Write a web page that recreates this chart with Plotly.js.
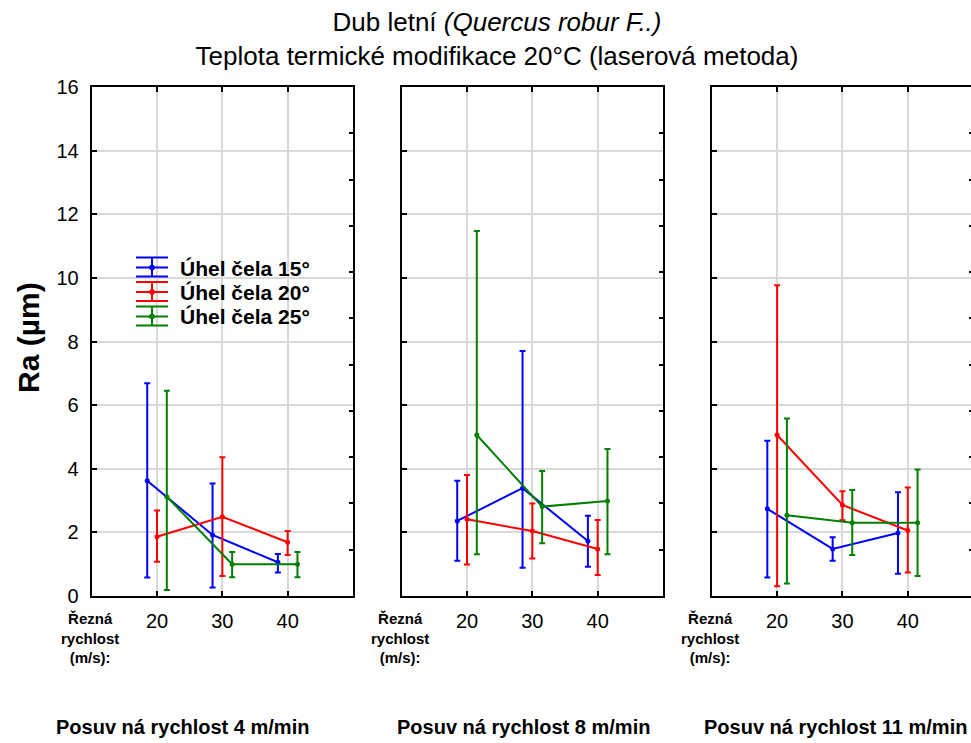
<!DOCTYPE html>
<html>
<head>
<meta charset="utf-8">
<script src="https://cdn.plot.ly/plotly-3.0.1.min.js"></script>
<style>
html,body{margin:0;padding:0;overflow:hidden;background:#fff;}
#chart{width:1000px;height:743px;}
</style>
</head>
<body>
<div id="chart"></div>
<script>
// ---- data ----
const cuttingSpeeds = [20, 30, 40];
const speedLabels = ['20', '30', '40'];
const feedLabels = ['Posuv ná rychlost 4 m/min', 'Posuv ná rychlost 8 m/min', 'Posuv ná rychlost 11 m/min'];
const seriesNames = ['Úhel čela 15°', 'Úhel čela 20°', 'Úhel čela 25°'];

// each: [feed 4, feed 8, feed 11] x [speed 20, 30, 40]
const mean15  = [[3.62, 1.92, 1.06], [2.36, 3.39, 1.73], [2.74, 1.48, 1.98]];
const upper15 = [[6.69, 3.54, 1.32], [3.62, 7.70, 2.52], [4.88, 1.85, 3.26]];
const lower15 = [[0.58, 0.27, 0.74], [1.11, 0.89, 0.92], [0.58, 1.11, 0.70]];

const mean20  = [[1.86, 2.49, 1.69], [2.41, 2.04, 1.48], [5.06, 2.86, 2.06]];
const upper20 = [[2.69, 4.36, 2.04], [3.80, 2.91, 2.39], [9.77, 3.29, 3.41]];
const lower20 = [[1.08, 0.63, 1.29], [0.99, 1.18, 0.66], [0.31, 2.38, 0.74]];

const mean25  = [[3.12, 1.00, 1.00], [5.06, 2.81, 2.99], [2.54, 2.30, 2.30]];
const upper25 = [[6.45, 1.38, 1.38], [11.47, 3.93, 4.62], [5.58, 3.33, 3.98]];
const lower25 = [[0.19, 0.59, 0.59], [1.31, 1.66, 1.31], [0.39, 1.29, 0.63]];

// ---- styling ----
const FONT = 'Liberation Sans, Arial, Helvetica, sans-serif';
const W = 1000, H = 743;
const colors = ['#0000ff', '#ff0000', '#008000'];
const dodge = [-1.5, 0, 1.5];
const plotTop = 87, plotBottom = 596;
const panelLeft = [91.7, 401.7, 711.8];
const panelWidth = 261.3;
const px = v => v / W;
const py = v => 1 - v / H;

const means = [mean15, mean20, mean25];
const uppers = [upper15, upper20, upper25];
const lowers = [lower15, lower20, lower25];

const traces = [];
const layout = {
  width: W, height: H,
  margin: {l: 0, r: 0, t: 0, b: 0},
  paper_bgcolor: '#fff', plot_bgcolor: '#fff',
  showlegend: false,
  font: {family: FONT, color: '#000'},
  title: {
    text: 'Dub letní <i>(Quercus robur F..)</i><br>Teplota termické modifikace 20°C (laserová metoda)',
    font: {family: FONT, size: 26, color: '#000'},
    x: px(497), xref: 'container', xanchor: 'center',
    y: 1 - 31 / H, yref: 'container', yanchor: 'top'
  },
  shapes: [],
  annotations: []
};

for (let p = 0; p < 3; p++) {
  const xa = 'xaxis' + (p + 1), ya = 'yaxis' + (p + 1), yr = 'yaxis' + (p + 4);
  layout[xa] = {
    domain: [px(panelLeft[p]), px(panelLeft[p] + panelWidth)],
    range: [10, 50], tickmode: 'array', tickvals: cuttingSpeeds, ticktext: speedLabels,
    showgrid: true, gridcolor: '#d9d9d9', gridwidth: 2,
    showline: true, linecolor: '#000', linewidth: 2, mirror: 'ticks',
    ticks: 'inside', ticklen: 5, tickwidth: 2, tickcolor: '#000',
    zeroline: false, anchor: 'y' + (p + 1), fixedrange: true,
    tickfont: {family: FONT, size: 20, color: '#000'}, ticklabelstandoff: 6
  };
  layout[ya] = {
    domain: [py(plotBottom), py(plotTop)],
    range: [0, 16], tickmode: 'linear', tick0: 0, dtick: 2,
    showgrid: true, gridcolor: '#d9d9d9', gridwidth: 2,
    showline: true, linecolor: '#000', linewidth: 2, mirror: true,
    ticks: 'inside', ticklen: 5, tickwidth: 2, tickcolor: '#000',
    zeroline: false, anchor: 'x' + (p + 1), fixedrange: true,
    showticklabels: p === 0,
    tickfont: {family: FONT, size: 20, color: '#000'}, ticklabelstandoff: 7
  };
  layout[yr] = {
    overlaying: 'y' + (p + 1), side: 'right', anchor: 'x' + (p + 1),
    range: [0, 11], tickmode: 'linear', tick0: 0, dtick: 1,
    showgrid: false, showline: false, zeroline: false, showticklabels: false,
    ticks: 'inside', ticklen: 4, tickwidth: 2, tickcolor: '#000', fixedrange: true
  };
  traces.push({x: [], y: [], type: 'scatter', xaxis: 'x' + (p + 1), yaxis: 'y' + (p + 4), showlegend: false, hoverinfo: 'skip'});

  for (let s = 0; s < 3; s++) {
    const m = means[s][p], u = uppers[s][p], l = lowers[s][p];
    traces.push({
      type: 'scatter', mode: 'lines+markers', name: seriesNames[s],
      x: cuttingSpeeds.map(v => v + dodge[s]), y: m,
      xaxis: 'x' + (p + 1), yaxis: 'y' + (p + 1),
      line: {color: colors[s], width: 2},
      marker: {color: colors[s], size: 5},
      error_y: {type: 'data', symmetric: false,
        array: m.map((v, i) => u[i] - v), arrayminus: m.map((v, i) => v - l[i]),
        color: colors[s], thickness: 2, width: 3},
      showlegend: false, cliponaxis: false
    });
  }

  layout.annotations.push({
    xref: 'paper', yref: 'paper', x: px(panelLeft[p] - 1.5), y: py(638),
    xanchor: 'center', yanchor: 'middle', showarrow: false,
    text: '<b>Řezná<br>rychlost<br>(m/s):</b>',
    font: {family: FONT, size: 15, color: '#000'}
  });
  layout.annotations.push({
    xref: 'paper', yref: 'paper', x: px([182.5, 523, 835][p]), y: py(727),
    xanchor: 'center', yanchor: 'middle', showarrow: false,
    text: '<b>' + feedLabels[p] + '</b>',
    font: {family: FONT, size: 20, color: '#000'}
  });
}

// y axis title
layout.annotations.push({
  xref: 'paper', yref: 'paper', x: px(28), y: py(338),
  xanchor: 'center', yanchor: 'middle', showarrow: false, textangle: -90,
  text: '<b>Ra (µm)</b>', font: {family: FONT, size: 30, color: '#000'}
});

// legend (error-bar style symbols)
for (let s = 0; s < 3; s++) {
  const cy = 267.5 + s * 24.5;
  const x0 = 136, x1 = 168, xc = 152;
  const ln = {color: colors[s], width: 2};
  [cy - 10, cy, cy + 9].forEach(yy => layout.shapes.push({
    type: 'line', xref: 'paper', yref: 'paper', x0: px(x0), x1: px(x1), y0: py(yy), y1: py(yy), line: ln
  }));
  layout.shapes.push({type: 'line', xref: 'paper', yref: 'paper', x0: px(xc), x1: px(xc), y0: py(cy - 10), y1: py(cy + 9), line: ln});
  layout.shapes.push({type: 'circle', xref: 'paper', yref: 'paper', x0: px(xc - 2.5), x1: px(xc + 2.5), y0: py(cy - 2.5), y1: py(cy + 2.5), line: {color: colors[s], width: 1}, fillcolor: colors[s]});
  layout.annotations.push({
    xref: 'paper', yref: 'paper', x: px(178), y: py(cy + 0.5),
    xanchor: 'left', yanchor: 'middle', showarrow: false,
    text: '<b>' + seriesNames[s] + '</b>', font: {family: FONT, size: 21, color: '#000'}
  });
}

Plotly.newPlot('chart', traces, layout, {staticPlot: true, displayModeBar: false});
</script>
</body>
</html>
